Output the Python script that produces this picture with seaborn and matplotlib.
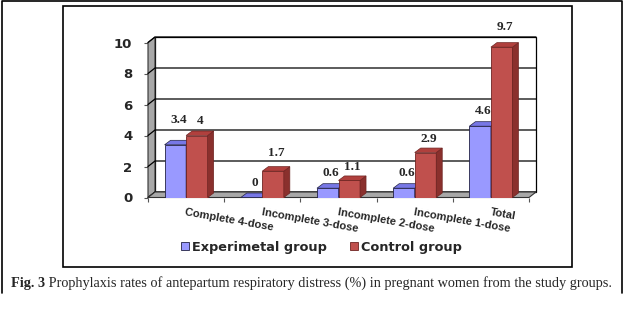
import matplotlib
matplotlib.use("Agg")
import matplotlib.pyplot as plt
from matplotlib.patches import Polygon, Rectangle
from matplotlib.lines import Line2D
import seaborn as sns
import pandas as pd

# ---------------- data ----------------
categories = ["Complete 4-dose", "Incomplete 3-dose", "Incomplete 2-dose",
              "Incomplete 1-dose", "Total"]
experimental = [3.4, 0, 0.6, 0.6, 4.6]
control = [4, 1.7, 1.1, 2.9, 9.7]
groups = ["Experimetal group", "Control group"]
yticks = [0, 2, 4, 6, 8, 10]
caption_bold = "Fig. 3"
caption_rest = " Prophylaxis rates of antepartum respiratory distress (%) in pregnant women from the study groups."

# label lift above bar top (pixels), per series
label_lift = [[25, 14.5, 15, 15, 15], [14.5, 18, 13.5, 13.5, 20]]

df = pd.DataFrame({
    "category": categories * 2,
    "group": [groups[0]] * len(categories) + [groups[1]] * len(categories),
    "value": experimental + control,
})

# ---------------- styles ----------------
W, H = 624, 324
front_cols = ["#9999FF", "#C0504D"]
top_cols = ["#7777E6", "#B0403D"]
side_cols = ["#5C5CC2", "#8A302D"]
edge_cols = ["#222244", "#6E2422"]
wall_col = "#A8A8A8"

sns.set_theme(style="white")
plt.rcParams["font.family"] = ["DejaVu Sans"]

fig = plt.figure(figsize=(W / 100, H / 100), dpi=100)

def fx(x):
    return x / W

def fy(y):
    return 1 - y / H

# front plane of the 3-D chart: x 148..529 px, value 0 at y=197.5, 10 at y=42.5
left_px, right_px, y0_px, y10_px = 148, 529, 197.5, 42.5
ax = fig.add_axes([fx(left_px), fy(y0_px), (right_px - left_px) / W, (y0_px - y10_px) / H])
ax.set_facecolor("none")

sns.barplot(data=df, x="category", y="value", hue="group", palette=front_cols,
            width=0.565, saturation=1, errorbar=None, ax=ax,
            edgecolor="black", linewidth=0.6)

ax.set_xlim(-0.5, len(categories) - 0.5)
ax.set_ylim(0, 10)
ux = len(categories) / (right_px - left_px)   # data units per pixel (x)
uy = 10 / (y0_px - y10_px)                     # data units per pixel (y)
wdx, wdy = 7 * ux, 5.5 * uy                     # wall depth
bdx, bdy = 6 * ux, 4.5 * uy                     # bar depth
xl, xr = -0.5, len(categories) - 0.5

# back wall
ax.add_patch(Rectangle((xl + wdx, wdy), xr - xl, 10, facecolor="white",
                       edgecolor="black", lw=0.9, zorder=0.5, clip_on=False))
# left wall
ax.add_patch(Polygon([(xl, 0), (xl, 10), (xl + wdx, 10 + wdy), (xl + wdx, wdy)],
                     closed=True, facecolor=wall_col, edgecolor="#333333", lw=0.8,
                     zorder=0.55, clip_on=False))
# gridlines
for v in yticks:
    ax.add_line(Line2D([xl, xl + wdx, xr + wdx], [v, v + wdy, v + wdy], color="black",
                       lw=0.9, zorder=0.6, clip_on=False))
# floor
ax.add_patch(Polygon([(xl, 0), (xr, 0), (xr + wdx, wdy), (xl + wdx, wdy)],
                     closed=True, facecolor=wall_col, edgecolor="#333333", lw=0.8,
                     zorder=0.7, clip_on=False))

# 3-D faces for bars + value labels
for ci, cont in enumerate(ax.containers):
    for bi, bar in enumerate(cont):
        x0, w, h = bar.get_x(), bar.get_width(), bar.get_height()
        z = 3 + ci * 0.2
        bar.set_zorder(z)
        bar.set_facecolor(front_cols[ci])
        bar.set_edgecolor(edge_cols[ci])
        side = Polygon([(x0 + w, 0), (x0 + w, h), (x0 + w + bdx, h + bdy), (x0 + w + bdx, bdy)],
                       closed=True, facecolor=side_cols[ci], edgecolor=edge_cols[ci],
                       lw=0.5, zorder=z + 0.05, clip_on=False)
        top = Polygon([(x0, h), (x0 + w, h), (x0 + w + bdx, h + bdy), (x0 + bdx, h + bdy)],
                      closed=True, facecolor=top_cols[ci], edgecolor=edge_cols[ci],
                      lw=0.5, zorder=z + 0.06, clip_on=False)
        ax.add_patch(side)
        ax.add_patch(top)
        ax.text(x0 + w / 2 + 3 * ux, h + label_lift[ci][bi] * uy, f"{h:g}",
                ha="center", va="center",
                family="Liberation Serif", fontweight="bold", fontsize=9.5,
                zorder=6, clip_on=False)

for s in ax.spines.values():
    s.set_visible(False)

ax.set_yticks(yticks)
ax.set_yticklabels([str(v) for v in yticks], fontweight="bold", fontsize=9.5)
ax.tick_params(axis="y", which="major", length=2.9, width=0.8, color="#555555",
               pad=8.4, left=True)
ax.set_xticks(range(len(categories)))
ax.set_xticks([i - 0.5 for i in range(len(categories) + 1)], minor=True)
ax.tick_params(axis="x", which="major", length=0, pad=6.8)
ax.tick_params(axis="x", which="minor", length=2.9, width=0.8, color="#555555", bottom=True)
ax.set_xticklabels(categories, rotation=-10, ha="left", rotation_mode="anchor",
                   family="Liberation Sans", fontweight="bold", fontsize=8)
ax.set_xlabel("")
ax.set_ylabel("")

# legend
sns.move_legend(ax, "center", bbox_to_anchor=(fx(321.5), fy(247)),
                bbox_transform=fig.transFigure, ncol=2, frameon=False, title=None,
                prop={"weight": "bold", "size": 9.3, "family": "DejaVu Sans"},
                handlelength=0.62, handleheight=0.62, handletextpad=0.25,
                columnspacing=1.8, borderaxespad=0)
leg = ax.get_legend()
for hnd, c, e in zip(leg.legend_handles, front_cols, edge_cols):
    hnd.set_facecolor(c)
    hnd.set_edgecolor(e)
    hnd.set_linewidth(0.6)

# inner chart frame
fig.add_artist(Rectangle((fx(63), fy(267)), (572 - 63) / W, (267 - 6) / H,
                         transform=fig.transFigure, fill=False, edgecolor="black", lw=1.2))
# outer frame (left, top, right)
fig.add_artist(Line2D([fx(1.5), fx(1.5), fx(621.5), fx(621.5)],
                      [fy(293), fy(0.5), fy(0.5), fy(293)],
                      transform=fig.transFigure, color="black", lw=1.2))

# caption
t1 = fig.text(fx(11), fy(287), caption_bold, family="Liberation Serif", fontweight="bold",
              fontsize=10.25, ha="left", va="baseline")
fig.canvas.draw()
bb = t1.get_window_extent(renderer=fig.canvas.get_renderer())
fig.text(bb.x1 / W, fy(287), caption_rest, family="Liberation Serif", fontsize=10.25,
         ha="left", va="baseline")

fig.savefig("out.png", dpi=100)
